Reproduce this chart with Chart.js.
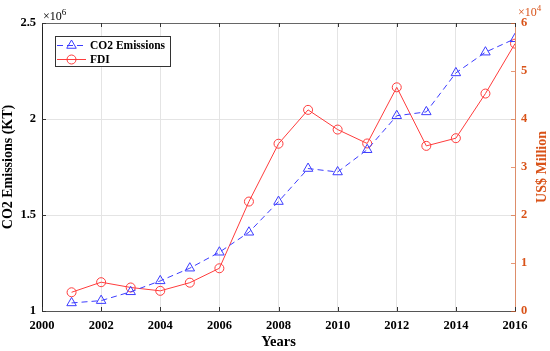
<!DOCTYPE html>
<html>
<head>
<meta charset="utf-8">
<script src="https://cdn.jsdelivr.net/npm/chart.js@4/dist/chart.umd.min.js"></script>
<style>
  html, body { margin: 0; padding: 0; background: #fff; }
  canvas { display: block; }
</style>
</head>
<body>
<canvas id="chart" width="550" height="351"></canvas>
<script>
// dane
const years = [2001, 2002, 2003, 2004, 2005, 2006, 2007, 2008, 2009, 2010, 2011, 2012, 2013, 2014, 2015, 2016];
const co2Emissions = [1042000, 1054000, 1100000, 1157000, 1223000, 1306000, 1410000, 1570000, 1742000, 1724000, 1840000, 2017000, 2037000, 2240000, 2348000, 2418000];
const fdi = [3900, 6000, 4900, 4200, 5900, 8900, 22800, 34850, 41900, 37800, 34900, 46600, 34400, 36000, 45300, 55700];
const seriesNames = ["CO2 Emissions", "FDI"];

const SERIF = "'Liberation Serif', 'Times New Roman', serif";
const ORANGE = "#D95319";
const BLUE = "rgb(60,60,255)";
const RED = "rgb(255,60,60)";

const toPoints = vals => vals.map((v, i) => ({ x: years[i], y: v }));

// ramka, znaczniki do wewnatrz, legenda, mnozniki osi
const overlay = {
    id: "overlay",
    afterDraw(chart) {
        const { ctx, chartArea: a, scales } = chart;
        ctx.save();
        ctx.lineWidth = 1;

        // gorna krawedz
        ctx.strokeStyle = "#666";
        ctx.beginPath();
        ctx.moveTo(a.left, a.top + 0.5);
        ctx.lineTo(a.right, a.top + 0.5);
        ctx.stroke();

        // znaczniki osi X (dol i gora)
        ctx.strokeStyle = "#333";
        ctx.beginPath();
        scales.x.ticks.forEach(t => {
            const x = Math.round(scales.x.getPixelForValue(t.value)) + 0.5;
            ctx.moveTo(x, a.bottom); ctx.lineTo(x, a.bottom - 4);
            ctx.moveTo(x, a.top); ctx.lineTo(x, a.top + 4);
        });
        // znaczniki lewej osi
        scales.y.ticks.forEach(t => {
            const y = Math.round(scales.y.getPixelForValue(t.value)) + 0.5;
            ctx.moveTo(a.left, y); ctx.lineTo(a.left + 4, y);
        });
        ctx.stroke();

        // znaczniki prawej osi
        ctx.strokeStyle = "rgba(217,83,25,0.6)";
        ctx.beginPath();
        scales.y1.ticks.forEach(t => {
            const y = Math.round(scales.y1.getPixelForValue(t.value)) + 0.5;
            ctx.moveTo(a.right, y); ctx.lineTo(a.right - 4, y);
        });
        ctx.stroke();

        // legenda
        const lx = 55.5, ly = 36.5, lw = 115, lh = 30;
        ctx.fillStyle = "#fff";
        ctx.fillRect(lx, ly, lw, lh);
        ctx.strokeStyle = "#333";
        ctx.strokeRect(lx, ly, lw, lh);
        const rows = [
            { name: seriesNames[0], color: BLUE, dash: [6, 4], y: 45 },
            { name: seriesNames[1], color: RED, dash: [], y: 59 }
        ];
        rows.forEach((r, i) => {
            ctx.strokeStyle = r.color;
            ctx.setLineDash(r.dash);
            ctx.beginPath();
            ctx.moveTo(57, r.y + 0.5); ctx.lineTo(86, r.y + 0.5);
            ctx.stroke();
            ctx.setLineDash([]);
            const ds = chart.data.datasets[i];
            ctx.fillStyle = "rgba(0,0,0,0)";
            ctx.strokeStyle = r.color;
            Chart.helpers.drawPoint(ctx, {
                pointStyle: ds.pointStyle, radius: ds.pointRadius, borderWidth: 1, rotation: 0
            }, 71.5, r.y + 0.5);
            ctx.fillStyle = "#000";
            ctx.font = "bold 11.5px " + SERIF;
            ctx.textBaseline = "middle";
            ctx.textAlign = "left";
            ctx.fillText(r.name, 90, r.y + 1);
        });

        // mnozniki osi
        ctx.textBaseline = "alphabetic";
        ctx.fillStyle = "#000";
        ctx.font = "12px " + SERIF;
        ctx.fillText("×10", 43, 20);
        let w = ctx.measureText("×10").width;
        ctx.font = "9px " + SERIF;
        ctx.fillText("6", 43 + w, 15);

        ctx.fillStyle = ORANGE;
        ctx.font = "12px " + SERIF;
        ctx.fillText("×10", 518, 16);
        w = ctx.measureText("×10").width;
        ctx.font = "9px " + SERIF;
        ctx.fillText("4", 518 + w, 11);

        // tytul prawej osi (czytany od dolu)
        ctx.translate(542, (a.top + a.bottom) / 2);
        ctx.rotate(-Math.PI / 2);
        ctx.font = "bold 14px " + SERIF;
        ctx.textAlign = "center";
        ctx.textBaseline = "middle";
        ctx.fillText("US$ Million", 0, 0);
        ctx.restore();
    }
};

new Chart(document.getElementById("chart").getContext("2d"), {
    type: "line",
    data: {
        datasets: [{
            label: seriesNames[0],
            data: toPoints(co2Emissions),
            yAxisID: "y",
            borderColor: BLUE,
            borderWidth: 1,
            borderDash: [6, 4],
            pointStyle: "triangle",
            pointRadius: 5.5,
            pointBorderColor: BLUE,
            pointBackgroundColor: "rgba(0,0,0,0)",
            pointBorderWidth: 1,
            fill: false,
            tension: 0
        }, {
            label: seriesNames[1],
            data: toPoints(fdi),
            yAxisID: "y1",
            borderColor: RED,
            borderWidth: 1,
            pointStyle: "circle",
            pointRadius: 4.5,
            pointBorderColor: RED,
            pointBackgroundColor: "rgba(0,0,0,0)",
            pointBorderWidth: 1,
            fill: false,
            tension: 0
        }]
    },
    options: {
        responsive: false,
        animation: false,
        devicePixelRatio: 1,
        layout: { padding: { top: 23, left: 0, right: 0, bottom: 0 } },
        plugins: {
            legend: { display: false },
            tooltip: { enabled: false }
        },
        scales: {
            x: {
                type: "linear",
                min: 2000, max: 2016,
                afterFit: s => { s.height = 40; },
                ticks: {
                    stepSize: 2,
                    padding: 7,
                    color: "#000",
                    font: { family: SERIF, size: 12.5, weight: "bold" },
                    callback: v => String(v)
                },
                grid: { color: "#e4e4e4", drawTicks: false },
                border: { color: "#555" },
                title: {
                    display: true,
                    text: "Years",
                    color: "#000",
                    font: { family: SERIF, size: 14.5, weight: "bold" },
                    padding: { top: 0, bottom: 0 }
                }
            },
            y: {
                position: "left",
                min: 1000000, max: 2500000,
                afterFit: s => { s.width = 42; },
                ticks: {
                    stepSize: 500000,
                    padding: 6,
                    color: "#000",
                    font: { family: SERIF, size: 12.5, weight: "bold" },
                    callback: v => String(v / 1000000)
                },
                grid: { color: "#e4e4e4", drawTicks: false },
                border: { color: "#222" },
                title: {
                    display: true,
                    text: "CO2 Emissions (KT)",
                    color: "#000",
                    font: { family: SERIF, size: 14, weight: "bold" },
                    padding: { top: 0, bottom: 0 }
                }
            },
            y1: {
                position: "right",
                min: 0, max: 60000,
                afterFit: s => { s.width = 35; },
                ticks: {
                    stepSize: 10000,
                    padding: 6,
                    color: ORANGE,
                    font: { family: SERIF, size: 12.5, weight: "bold" },
                    callback: v => String(v / 10000)
                },
                grid: { display: false, drawTicks: false },
                border: { color: "rgba(217,83,25,0.6)" }
            }
        }
    },
    plugins: [overlay]
});
</script>
</body>
</html>
